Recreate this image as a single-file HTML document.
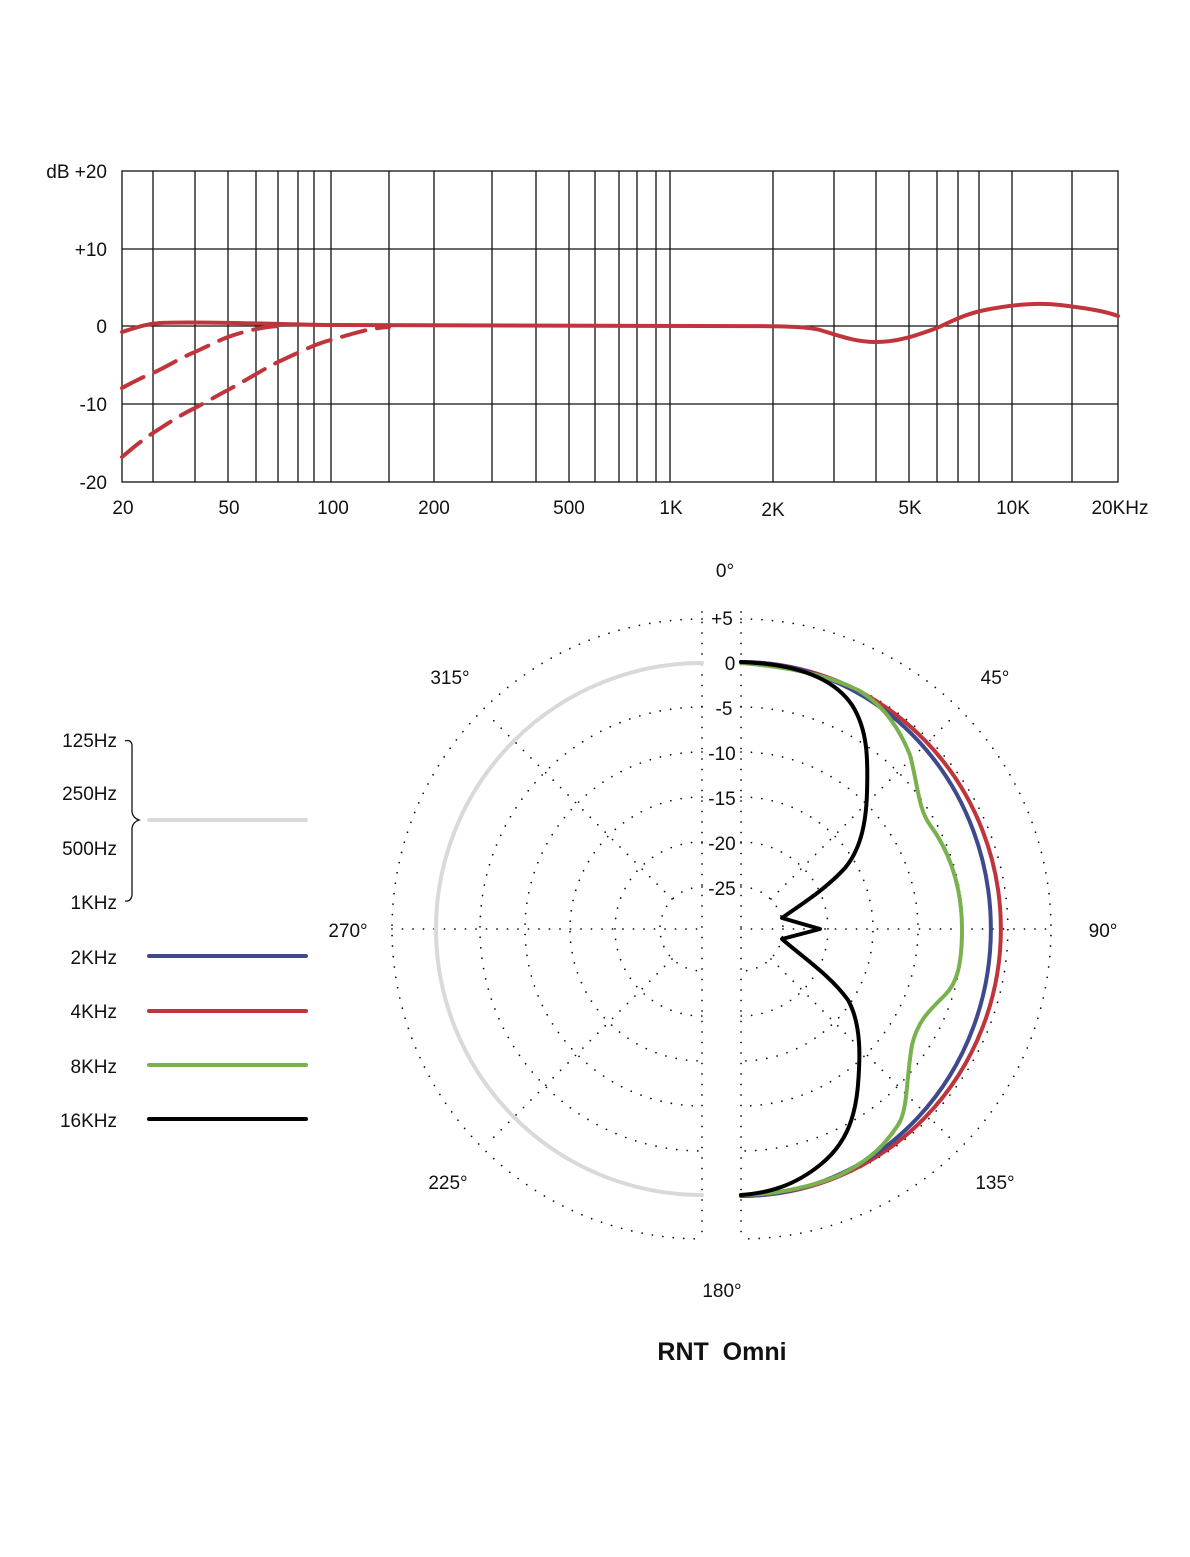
<!DOCTYPE html>
<html><head><meta charset="utf-8"><style>
html,body{margin:0;padding:0;background:#fff}
svg{display:block}
text{font-family:"Liberation Sans",sans-serif;fill:#111}
</style></head><body>
<svg width="1190" height="1557" viewBox="0 0 1190 1557" xmlns="http://www.w3.org/2000/svg">
<g stroke="#111" stroke-width="1.3" fill="none">
<rect x="122" y="171" width="996" height="311"/>
<line x1="122" y1="249" x2="1118" y2="249"/>
<line x1="122" y1="326" x2="1118" y2="326"/>
<line x1="122" y1="404" x2="1118" y2="404"/>
<path d="M153 171V482M195 171V482M228 171V482M256 171V482M278 171V482M298 171V482M314 171V482M331 171V482M389 171V482M434 171V482M492 171V482M536 171V482M569 171V482M595 171V482M619 171V482M637 171V482M656 171V482M670 171V482M773 171V482M834 171V482M876 171V482M909 171V482M937 171V482M958 171V482M979 171V482M1012 171V482M1072 171V482"/>
</g>
<g font-size="19" text-anchor="end">
<text x="107" y="178">dB  +20</text>
<text x="107" y="256">+10</text>
<text x="107" y="333">0</text>
<text x="107" y="411">-10</text>
<text x="107" y="489">-20</text>
</g>
<g font-size="19" text-anchor="middle">
<text x="123" y="514">20</text>
<text x="229" y="514">50</text>
<text x="333" y="514">100</text>
<text x="434" y="514">200</text>
<text x="569" y="514">500</text>
<text x="671" y="514">1K</text>
<text x="773" y="516">2K</text>
<text x="910" y="514">5K</text>
<text x="1013" y="514">10K</text>
<text x="1120" y="514">20KHz</text>
</g>
<g stroke="#c0353b" stroke-width="4" fill="none" stroke-linecap="round" stroke-linejoin="round">
<path d="M122 332 C135 328 145 324 160 323 C200 321 300 325 330 325 L700 326 C780 326 805 326 820 330 C840 336 855 342 876 342 C900 342 920 334 937 328 C950 322 965 314 985 310 C1010 305 1035 302 1060 305 C1085 308 1105 311 1118 316"/>
<path d="M122 388 C135 381 145 376 153 373 C170 365 182 357 195 352 C210 345 220 340 228 337 C245 331 262 327 278 326" stroke-dasharray="24 12"/>
<path d="M122 457 C135 446 145 438 153 433 C170 422 182 414 195 408 C210 400 220 394 228 390 C250 378 262 370 278 362 C300 352 315 344 331 340 C355 333 370 328 389 327" stroke-dasharray="24 12"/>
</g>
<g stroke="#111" stroke-width="1.8" fill="none" stroke-linecap="round" stroke-dasharray="0 10.5">
<path d="M702 619 A310 310 0 0 0 702 1239"/>
<path d="M702 707 A222 222 0 0 0 702 1151"/>
<path d="M702 752 A177 177 0 0 0 702 1106"/>
<path d="M702 797 A132 132 0 0 0 702 1061"/>
<path d="M702 842 A87 87 0 0 0 702 1016"/>
<path d="M702 887 A42 42 0 0 0 702 971"/>
<path d="M741 619 A310 310 0 0 1 741 1239"/>
<path d="M741 707 A222 222 0 0 1 741 1151"/>
<path d="M741 752 A177 177 0 0 1 741 1106"/>
<path d="M741 797 A132 132 0 0 1 741 1061"/>
<path d="M741 842 A87 87 0 0 1 741 1016"/>
<path d="M741 887 A42 42 0 0 1 741 971"/>
<path d="M741 662 A267 267 0 0 1 741 1196"/>
<line x1="702" y1="612" x2="702" y2="1242"/>
<line x1="741" y1="612" x2="741" y2="1242"/>
<line x1="392" y1="929" x2="702" y2="929"/>
<line x1="741" y1="929" x2="1052" y2="929"/>
<line x1="672" y1="899" x2="490" y2="717"/>
<line x1="672" y1="959" x2="490" y2="1141"/>
<line x1="771" y1="899" x2="953" y2="717"/>
<line x1="771" y1="959" x2="953" y2="1141"/>
</g>
<g font-size="19" text-anchor="middle">
<rect x="706" y="604" width="31" height="300" fill="#fff"/>
<text x="722" y="625">+5</text>
<text x="730" y="670">0</text>
<text x="724" y="715">-5</text>
<text x="722" y="760">-10</text>
<text x="722" y="805">-15</text>
<text x="722" y="850">-20</text>
<text x="722" y="895">-25</text>
<text x="725" y="577">0°</text>
<text x="995" y="684">45°</text>
<text x="1103" y="937">90°</text>
<text x="995" y="1189">135°</text>
<text x="722" y="1297">180°</text>
<text x="448" y="1189">225°</text>
<text x="348" y="937">270°</text>
<text x="450" y="684">315°</text>
</g>
<g fill="none" stroke-width="4" stroke-linecap="round" stroke-linejoin="round">
<path d="M702 663 A266 266 0 0 0 702 1195" stroke="#d9d9d9"/>
<path d="M741 662 A260 267 0 0 1 741 1196" stroke="#c0353b"/>
<path d="M741 662 A250 267 0 0 1 741 1196" stroke="#3f4a8c"/>
<path d="M741 663 C790 667 830 676 858 690 C885 706 900 730 910 755 C918 785 918 808 930 825 C945 845 962 880 962 929 C962 970 955 985 945 995 C930 1010 918 1020 912 1045 C906 1080 908 1110 898 1125 C885 1145 870 1160 840 1175 C810 1188 770 1195 741 1195" stroke="#79b14f"/>
<path d="M741 662 C800 664 835 680 852 705 C868 730 868 760 867 793 C866 825 860 850 845 868 C825 890 800 905 782 918 L820 929 L782 939 C800 955 830 975 848 1000 C862 1025 860 1060 858 1085 C855 1120 845 1145 820 1165 C795 1185 770 1193 741 1195" stroke="#000"/>
</g>
<g font-size="19" text-anchor="end">
<text x="117" y="747">125Hz</text>
<text x="117" y="800">250Hz</text>
<text x="117" y="855">500Hz</text>
<text x="117" y="909">1KHz</text>
<text x="117" y="964">2KHz</text>
<text x="117" y="1018">4KHz</text>
<text x="117" y="1073">8KHz</text>
<text x="117" y="1127">16KHz</text>
</g>
<path d="M125 741 Q131 739 132 745 L132 812 Q133 818 139 820 Q133 822 132 828 L132 895 Q131 902 125 901" fill="none" stroke="#111" stroke-width="1.3"/>
<g stroke-width="4" stroke-linecap="round">
<line x1="149" y1="820" x2="306" y2="820" stroke="#d9d9d9"/>
<line x1="149" y1="956" x2="306" y2="956" stroke="#3f4a8c"/>
<line x1="149" y1="1011" x2="306" y2="1011" stroke="#c0353b"/>
<line x1="149" y1="1065" x2="306" y2="1065" stroke="#79b14f"/>
<line x1="149" y1="1119" x2="306" y2="1119" stroke="#000"/>
</g>
<text x="722" y="1360" font-size="25" font-weight="bold" text-anchor="middle">RNT&#160;&#160;Omni</text>
</svg>
</body></html>
